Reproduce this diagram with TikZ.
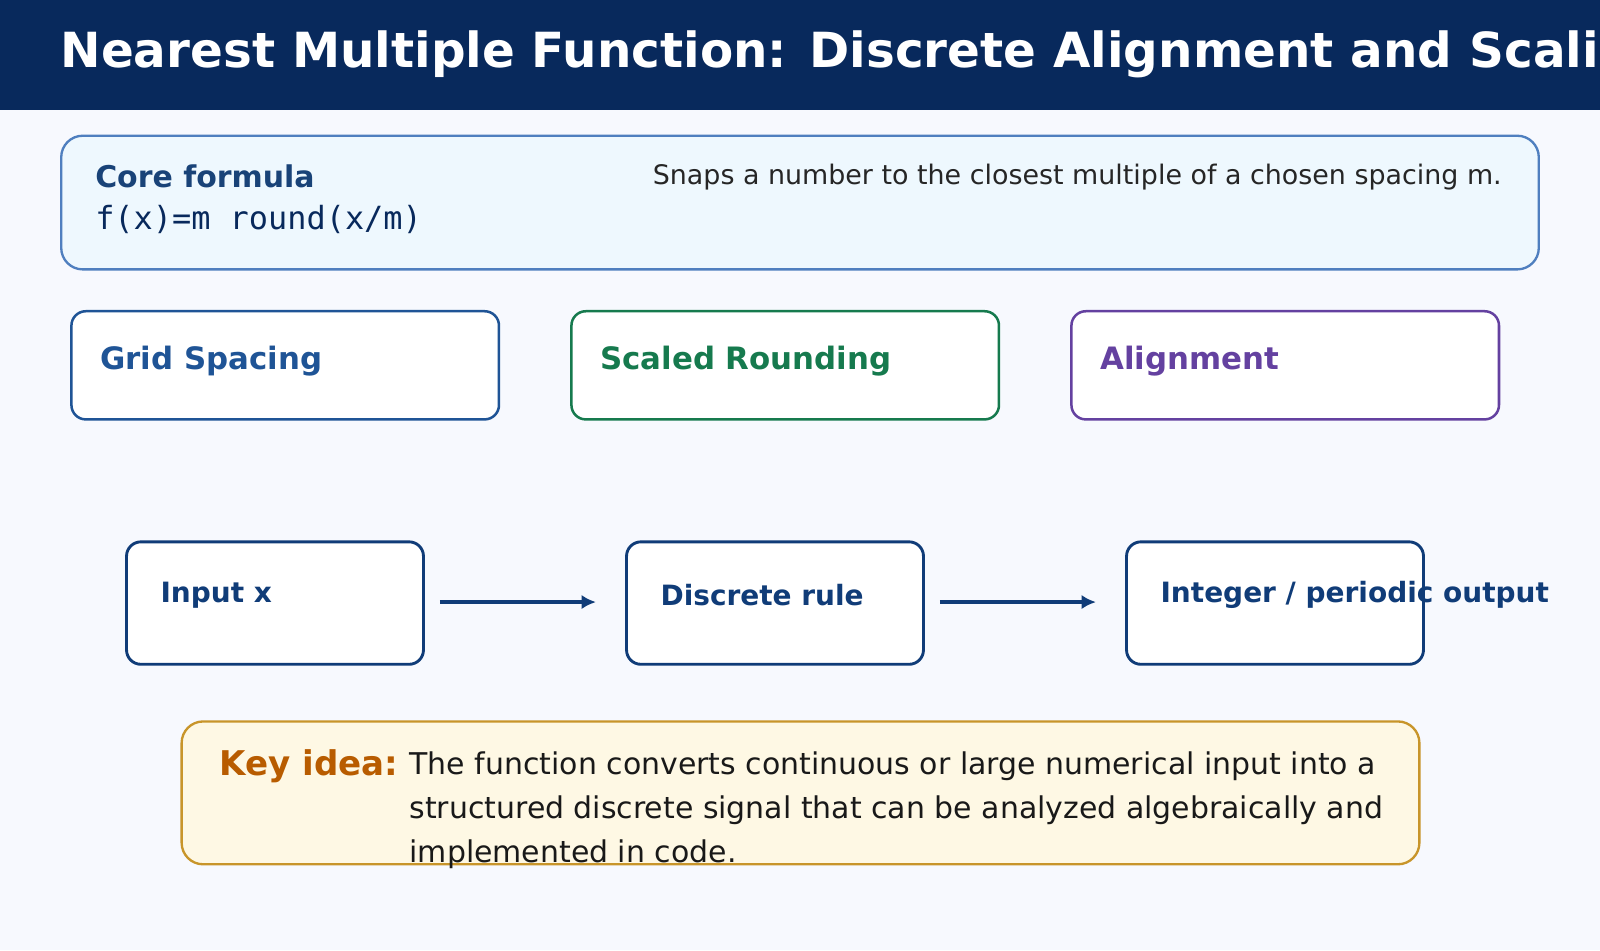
\documentclass[tikz,border=0pt]{standalone}
\usepackage{fontspec}
\setmainfont{DejaVu Sans}
\setmonofont{DejaVu Sans Mono}
\usetikzlibrary{positioning,calc,arrows.meta}
\definecolor{navy}{HTML}{08295C}
\definecolor{pageb}{HTML}{F7F9FE}
\definecolor{coreb}{HTML}{EEF8FE}
\definecolor{coreline}{HTML}{4F7FBF}
\definecolor{gridc}{HTML}{1F5496}
\definecolor{scalc}{HTML}{167A4E}
\definecolor{alic}{HTML}{6441A0}
\definecolor{flowc}{HTML}{103C78}
\definecolor{keyb}{HTML}{FEF8E4}
\definecolor{keyline}{HTML}{C8952A}
\definecolor{keyc}{HTML}{B85C00}
\newcommand{\pxfont}[1]{\fontsize{#1pt}{#1pt}\selectfont}

\begin{document}
\begin{tikzpicture}[x=0.02cm,y=-0.02cm,
    card/.style={draw=#1,fill=white,line width=1.4pt,rounded corners=8pt},
    card/.default=gridc,
    cardlabel/.style={anchor=west,inner sep=0,font=\bfseries\pxfont{17.2},text=#1},
    flowbox/.style={draw=flowc,fill=white,line width=1.6pt,rounded corners=8pt},
    flowlabel/.style={anchor=west,inner sep=0,font=\bfseries\pxfont{15.6},text=flowc},
    flow/.style={draw=flowc,line width=1.8pt,-{Latex[length=8pt,width=8pt]}}
    ]
    \useasboundingbox (0,0) rectangle (1568,931);
    \clip (0,0) rectangle (1568,931);
    \fill[pageb] (0,0) rectangle (1568,931);
    %%% Titel
    \fill[navy] (0,0) rectangle (1568,108);
    \node[anchor=west,inner sep=0,text=white,font=\bfseries\pxfont{27}] (title) at (59,53)
        {Nearest Multiple Function: Discrete Alignment and Scaling};
    %%% Formule
    \draw[draw=coreline,fill=coreb,line width=1.3pt,rounded corners=12pt] (60,133) rectangle (1508,264);
    \node[anchor=west,inner sep=0,text=gridc!80!black,font=\bfseries\pxfont{16.7}] (core) at (93,173) {Core formula};
    \node[anchor=west,inner sep=0,font=\ttfamily\pxfont{17.8},text=navy] (formula) at (93,215) {f(x)=m round(x/m)};
    \node[anchor=east,inner sep=0,font=\pxfont{15},text=black!85] (snaps) at (1472,174)
        {Snaps a number to the closest multiple of a chosen spacing m.};
    %%% Kaarten
    \draw[card=gridc] (70,305) rectangle (489,411);
    \node[cardlabel=gridc] (grid) at (98,354) {Grid Spacing};
    \draw[card=scalc] (560,305) rectangle (979,411);
    \node[cardlabel=scalc] (scaled) at (588,354) {Scaled Rounding};
    \draw[card=alic] (1050,305) rectangle (1469,411);
    \node[cardlabel=alic] (align) at (1078,354) {Alignment};
    %%% Stroom
    \draw[flowbox] (124,531) rectangle (415,651);
    \node[flowlabel] (input) at (157,583) {Input x};
    \draw[flowbox] (614,531) rectangle (905,651);
    \node[flowlabel] (rule) at (647,583) {Discrete rule};
    \draw[flowbox] (1104,531) rectangle (1395,651);
    \node[flowlabel] (output) at (1137,583) {Integer / periodic output};
    \coordinate (a1) at (431,590); \coordinate (a2) at (584,590);
    \coordinate (b1) at (921,590); \coordinate (b2) at (1074,590);
    \draw[flow] (a1) -- (a2);
    \draw[flow] (b1) -- (b2);
    %%% Kernidee
    \draw[draw=keyline,fill=keyb,line width=1.3pt,rounded corners=12pt] (178,707) rectangle (1391,847);
    \node[anchor=west,inner sep=0,text=keyc,font=\bfseries\pxfont{19}] (key) at (215,751) {Key idea:};
    \node[anchor=north west,inner sep=0,align=left,font=\pxfont{16.7},text=black!90] (keytext) at (401,736)
        {The function converts continuous or large numerical input into a\\[8pt]
         structured discrete signal that can be analyzed algebraically and\\[8pt]
         implemented in code.};
\end{tikzpicture}
\end{document}
